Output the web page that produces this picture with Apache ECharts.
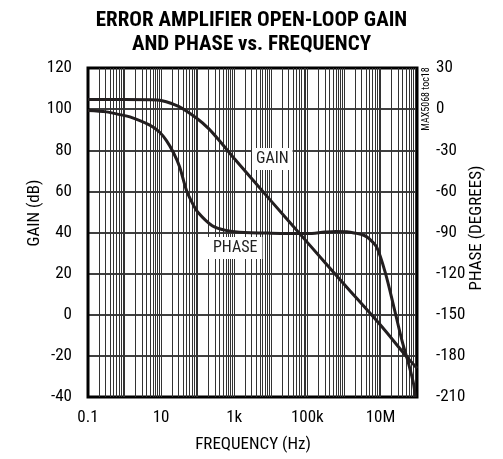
<!DOCTYPE html>
<html>
<head>
<meta charset="utf-8">
<script src="https://cdn.jsdelivr.net/npm/echarts@6/dist/echarts.min.js"></script>
<style>
html,body{margin:0;padding:0;background:#fff;}
#c{width:503px;height:459px;}
</style>
</head>
<body>
<div id="c"></div>
<script>
// ---- data ----
var gainFreq = [0.1, 1, 5, 10, 30, 100, 200, 400, 1000, 10000, 100000, 1000000, 10000000, 50000000, 100000000];
var gainDb   = [104.7, 104.7, 104.6, 104.2, 101.3, 95.2, 90.5, 84.5, 76, 55.5, 35.2, 15, -5, -20, -26];

var phaseFreq = [0.1, 0.32, 0.74, 1.4, 4.9, 9, 14, 22, 32, 49, 70, 100, 250, 600, 1400, 10000, 100000, 300000, 600000, 1200000, 2100000, 3500000, 4800000, 8000000, 13800000, 23400000, 39000000, 59000000, 80000000, 90000000];
var phaseDeg  = [-1, -2, -4, -5.7, -11.7, -16.7, -23, -32, -42, -59, -68, -75, -85, -88.5, -89.8, -90.5, -90.8, -89.7, -89.2, -89.4, -90.5, -92, -94.3, -101, -120, -144.6, -169, -185.8, -200, -210];

var xTickValues = [0.1, 10, 1000, 100000, 10000000];
var xTickLabels = ['0.1', '10', '1k', '100k', '10M'];

var FONT = "'Liberation Sans Narrow', 'Roboto Condensed', 'DejaVu Sans Condensed', 'Arial Narrow', sans-serif";

function pairs(xs, ys) { return xs.map(function (x, i) { return [x, ys[i]]; }); }

// vertical log grid lines (1..9 x 10^k) across the axis range
var vLines = [];
for (var e = -1; e < 8; e++) {
  for (var m = 1; m <= 9; m++) {
    if (m === 1 && e === -1) continue;
    vLines.push({ xAxis: m * Math.pow(10, e) });
  }
}

var chart = echarts.init(document.getElementById('c'), null, { renderer: 'canvas' });
chart.setOption({
  animation: false,
  backgroundColor: '#fff',
  textStyle: { fontFamily: FONT },
  title: {
    text: 'ERROR AMPLIFIER OPEN-LOOP GAIN\nAND PHASE vs. FREQUENCY',
    left: 'center', top: 4,
    textStyle: { fontFamily: FONT, fontWeight: 'bold', fontSize: 21, lineHeight: 24, color: '#000' }
  },
  grid: { left: 88, right: 86, top: 68, bottom: 62, show: true, borderColor: '#000', borderWidth: 3, backgroundColor: 'transparent' },
  xAxis: {
    type: 'log', logBase: 10, min: 0.1, max: 100000000,
    axisLine: { show: false }, axisTick: { show: false },
    splitLine: { show: false },
    axisLabel: {
      fontFamily: FONT, fontSize: 17, color: '#000', margin: 12,
      showMinLabel: true, showMaxLabel: true,
      formatter: function (v) {
        var lv = Math.round(Math.log10(v) * 100);
        for (var i = 0; i < xTickValues.length; i++) {
          if (Math.round(Math.log10(xTickValues[i]) * 100) === lv) return xTickLabels[i];
        }
        return '';
      }
    }
  },
  yAxis: [
    {
      type: 'value', min: -40, max: 120, interval: 20, position: 'left',
      axisLine: { show: false }, axisTick: { show: false },
      splitLine: { show: true, lineStyle: { color: '#000', width: 1.5 } },
      axisLabel: { fontFamily: FONT, fontSize: 17, color: '#000', margin: 16 }
    },
    {
      type: 'value', min: -210, max: 30, interval: 30, position: 'right',
      axisLine: { show: false }, axisTick: { show: false },
      splitLine: { show: false },
      axisLabel: { fontFamily: FONT, fontSize: 17, color: '#000', margin: 19 }
    }
  ],
  graphic: [
    { type: 'text', left: 252, top: 148, z: 10,
      style: { text: 'GAIN', fontFamily: FONT, fontSize: 16, fill: '#222', backgroundColor: '#fff', padding: [3, 4, 3, 4] } },
    { type: 'text', left: 208, top: 237, z: 10,
      style: { text: 'PHASE', fontFamily: FONT, fontSize: 16, fill: '#222', backgroundColor: '#fff', padding: [3, 5, 3, 5] } },
    { type: 'text', x: 35, y: 213, rotation: Math.PI / 2, z: 10,
      style: { text: 'GAIN (dB)', fontFamily: FONT, fontSize: 17, fill: '#000', align: 'center', verticalAlign: 'middle' } },
    { type: 'text', x: 477, y: 228, rotation: Math.PI / 2, z: 10,
      style: { text: 'PHASE (DEGREES)', fontFamily: FONT, fontSize: 17, fill: '#000', align: 'center', verticalAlign: 'middle' } },
    { type: 'text', x: 253, y: 445, z: 10,
      style: { text: 'FREQUENCY (Hz)', fontFamily: FONT, fontSize: 17, fill: '#000', align: 'center', verticalAlign: 'middle' } },
    { type: 'text', x: 426, y: 99, rotation: Math.PI / 2, z: 10,
      style: { text: 'MAX5068 toc18', fontFamily: FONT, fontSize: 10, fill: '#000', align: 'center', verticalAlign: 'middle' } }
  ],
  series: [
    {
      type: 'line', name: 'grid', data: [], z: 1, silent: true,
      markLine: {
        silent: true, symbol: ['none', 'none'], animation: false,
        label: { show: false },
        lineStyle: { color: '#333', width: 1, type: 'solid' },
        emphasis: { disabled: true },
        data: vLines
      }
    },
    {
      type: 'line', name: 'GAIN', yAxisIndex: 0, z: 5,
      data: pairs(gainFreq, gainDb), smooth: 0.3, showSymbol: false,
      lineStyle: { color: '#231f20', width: 3 }
    },
    {
      type: 'line', name: 'PHASE', yAxisIndex: 1, z: 5,
      data: pairs(phaseFreq, phaseDeg), smooth: 0.3, showSymbol: false,
      lineStyle: { color: '#231f20', width: 3 }
    }
  ]
});
</script>
</body>
</html>
